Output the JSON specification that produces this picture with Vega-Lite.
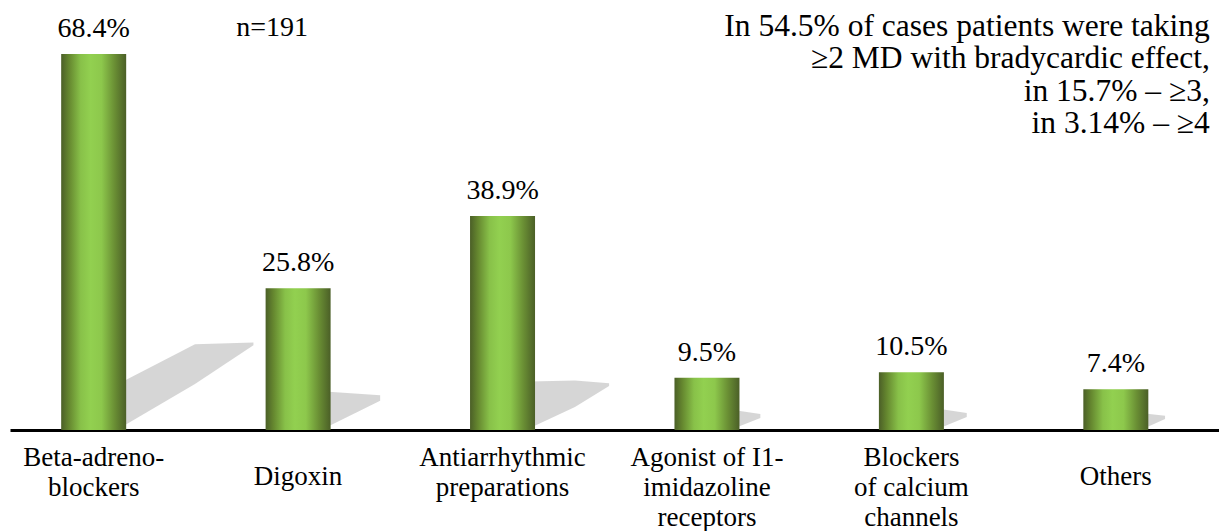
{
  "$schema": "https://vega.github.io/schema/vega-lite/v6.json",
  "width": 1209,
  "height": 430,
  "autosize": "none",
  "padding": {"left": 10, "top": 0, "right": 0, "bottom": 101},
  "background": "white",
  "config": {"view": {"stroke": null}, "font": "Liberation Serif"},
  "datasets": {
    "bars": [
      {"drug": "Beta-adreno-|blockers", "pct": 68.4, "label": "68.4%"},
      {"drug": "Digoxin", "pct": 25.8, "label": "25.8%"},
      {"drug": "Antiarrhythmic|preparations", "pct": 38.9, "label": "38.9%"},
      {"drug": "Agonist of I1-|imidazoline|receptors", "pct": 9.5, "label": "9.5%"},
      {"drug": "Blockers|of calcium|channels", "pct": 10.5, "label": "10.5%"},
      {"drug": "Others", "pct": 7.4, "label": "7.4%"}
    ],
    "shadows": [
      {"bar": "b1", "u": 0.127, "lo": 0.36, "hi": 8.55},
      {"bar": "b1", "u": 0.494, "lo": 8.37, "hi": 15.6},
      {"bar": "b1", "u": 0.78, "lo": 15.4, "hi": 15.9},
      {"bar": "b2", "u": 1.13, "lo": 0.36, "hi": 7.0},
      {"bar": "b2", "u": 1.4, "lo": 5.3, "hi": 6.3},
      {"bar": "b3", "u": 2.133, "lo": 0.36, "hi": 8.8},
      {"bar": "b3", "u": 2.353, "lo": 4.18, "hi": 9.0},
      {"bar": "b3", "u": 2.52, "lo": 8.0, "hi": 8.5},
      {"bar": "b4", "u": 3.136, "lo": 0.36, "hi": 3.6},
      {"bar": "b4", "u": 3.26, "lo": 2.18, "hi": 2.9},
      {"bar": "b5", "u": 4.139, "lo": 0.36, "hi": 3.8},
      {"bar": "b5", "u": 4.27, "lo": 2.36, "hi": 3.1},
      {"bar": "b6", "u": 5.142, "lo": 0.36, "hi": 3.0},
      {"bar": "b6", "u": 5.24, "lo": 2.0, "hi": 2.6}
    ],
    "notes": [
      {"note": "In 54.5% of cases patients were taking|≥2 MD with bradycardic effect,|in 15.7% – ≥3,|in 3.14% – ≥4", "anchor": "Others", "v": 71.7}
    ],
    "sample": [
      {"n": "n=191", "anchor": "Digoxin", "v": 71.7}
    ]
  },
  "resolve": {"scale": {"x": "independent"}, "axis": {"x": "independent"}},
  "layer": [
    {
      "data": {"name": "shadows"},
      "mark": {"type": "area", "color": "#c8c8c8", "opacity": 0.75},
      "encoding": {
        "x": {"field": "u", "type": "quantitative", "scale": {"domain": [-0.411, 5.504], "nice": false, "zero": false}, "axis": null},
        "y": {"field": "lo", "type": "quantitative", "scale": {"domain": [0, 78.2], "nice": false}, "axis": null},
        "y2": {"field": "hi"},
        "detail": {"field": "bar"}
      }
    },
    {
      "layer": [
        {
          "data": {"name": "bars"},
          "mark": {
            "type": "bar",
            "width": 65,
            "fill": {
              "gradient": "linear",
              "x1": 0, "y1": 0, "x2": 1, "y2": 0,
              "stops": [
                {"offset": 0, "color": "#4b5f27"},
                {"offset": 0.12, "color": "#65872f"},
                {"offset": 0.3, "color": "#88c149"},
                {"offset": 0.45, "color": "#92d050"},
                {"offset": 0.62, "color": "#8dc84c"},
                {"offset": 0.82, "color": "#6a8f34"},
                {"offset": 1, "color": "#4b5f27"}
              ]
            }
          },
          "encoding": {
            "x": {
              "field": "drug", "type": "nominal", "sort": null,
              "scale": {"paddingInner": 0.682, "paddingOuter": 0.298, "align": 0.42},
              "axis": {
                "title": null,
                "labelAngle": 0,
                "labelExpr": "split(datum.label, '|')",
                "labelFont": "Liberation Serif",
                "labelFontSize": 27,
                "labelColor": "black",
                "labelLineHeight": 30,
                "labelBaseline": "top",
                "labelPadding": {"condition": {"test": "indexof(datum.value, '|') < 0", "value": 33}, "value": 14},
                "labelLimit": 0,
                "ticks": false,
                "domainColor": "black",
                "domainWidth": 3
              }
            },
            "y": {"field": "pct", "type": "quantitative", "scale": {"domain": [0, 78.2], "nice": false}, "axis": null}
          }
        },
        {
          "data": {"name": "bars"},
          "mark": {"type": "text", "font": "Liberation Serif", "fontSize": 28, "color": "black", "baseline": "alphabetic", "dy": -17},
          "encoding": {
            "x": {"field": "drug", "type": "nominal", "sort": null},
            "y": {"field": "pct", "type": "quantitative"},
            "text": {"field": "label"}
          }
        },
        {
          "data": {"name": "notes"},
          "mark": {"type": "text", "font": "Liberation Serif", "fontSize": 31.5, "color": "black", "align": "right", "baseline": "alphabetic", "lineBreak": "|", "lineHeight": 32.5, "dx": 94},
          "encoding": {
            "x": {"field": "anchor", "type": "nominal", "sort": null},
            "y": {"field": "v", "type": "quantitative"},
            "text": {"field": "note"}
          }
        },
        {
          "data": {"name": "sample"},
          "mark": {"type": "text", "font": "Liberation Serif", "fontSize": 28, "color": "black", "align": "center", "baseline": "alphabetic", "dx": -26},
          "encoding": {
            "x": {"field": "anchor", "type": "nominal", "sort": null},
            "y": {"field": "v", "type": "quantitative"},
            "text": {"field": "n"}
          }
        }
      ]
    }
  ]
}
